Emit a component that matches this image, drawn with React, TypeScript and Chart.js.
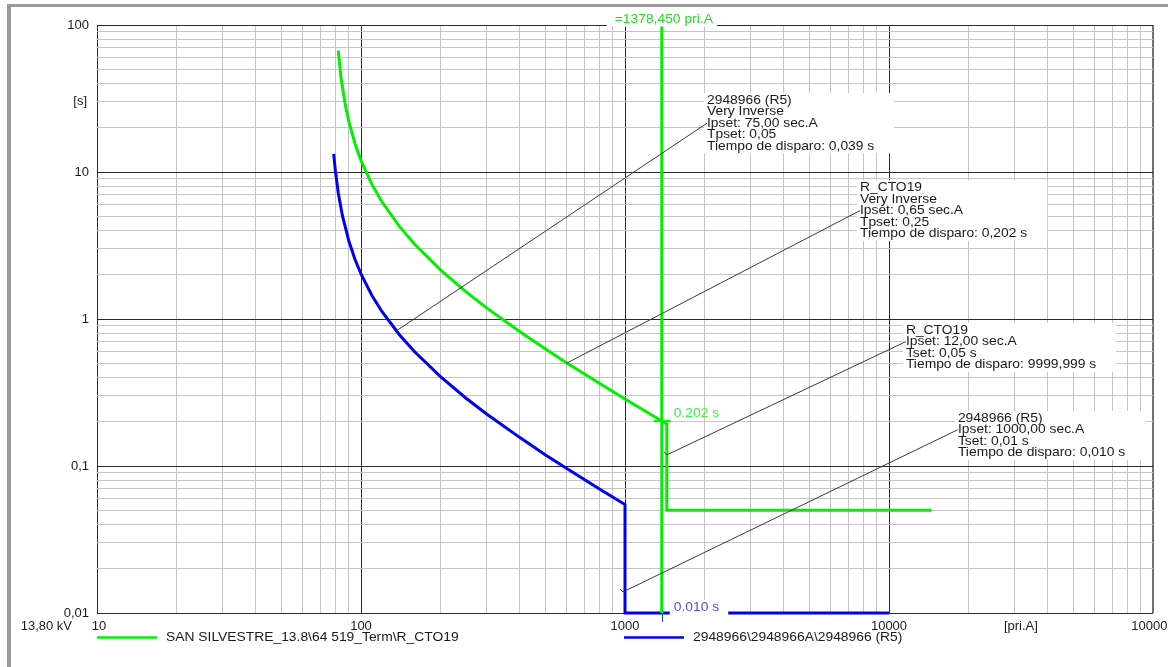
import React, { useEffect, useRef } from 'react';
import { Chart, registerables } from 'chart.js';

Chart.register(...registerables);

// ---------- data ----------
const greenName = 'SAN SILVESTRE_13.8\\64 519_Term\\R_CTO19';
const blueName = '2948966\\2948966A\\2948966 (R5)';

const greenCurrent = [82, 84, 87, 90, 95, 100, 110, 120, 140, 160, 200, 250, 300, 400, 500, 600, 800, 1000, 1200, 1378, 1440, 1440, 14500];
const greenTime = [67, 43.9, 29.2, 21.9, 15.5, 11.96, 8.23, 6.27, 4.25, 3.21, 2.158, 1.53, 1.186, 0.818, 0.624, 0.504, 0.365, 0.2855, 0.2346, 0.2025, 0.1933, 0.05, 0.05];

const blueCurrent = [78.8, 80, 82, 85, 90, 95, 100, 110, 120, 140, 160, 200, 250, 300, 400, 500, 600, 800, 1000, 1000, 10000];
const blueTime = [13.3, 10.13, 7.23, 5.06, 3.375, 2.53, 2.025, 1.446, 1.125, 0.779, 0.596, 0.405, 0.289, 0.225, 0.156, 0.119, 0.0964, 0.0698, 0.0547, 0.01, 0.01];

const markerCurrent = 1378.45;
const markerTimes = [0.01, 100];
const markerLabel = '=1378,450 pri.A';
const greenTripTime = 0.202;
const greenTripLabel = '0.202 s';
const blueTripTime = 0.01;
const blueTripLabel = '0.010 s';

const xDecades = [10, 100, 1000, 10000, 100000];
const xDecadeLabels = ['10', '100', '1000', '10000', '100000'];
const yDecades = [0.01, 0.1, 1, 10, 100];
const yDecadeLabels = ['0,01', '0,1', '1', '10', '100'];
const xUnit = '[pri.A]';
const xUnitAt = 31600;
const yUnit = '[s]';
const yUnitAt = 30;
const voltageLabel = '13,80 kV';

const annoTexts = [
  ['2948966 (R5)', 'Very Inverse', 'Ipset: 75,00 sec.A', 'Tpset: 0,05', 'Tiempo de disparo: 0,039 s'],
  ['R_CTO19', 'Very Inverse', 'Ipset: 0,65 sec.A', 'Tpset: 0,25', 'Tiempo de disparo: 0,202 s'],
  ['R_CTO19', 'Ipset: 12,00 sec.A', 'Tset: 0,05 s', 'Tiempo de disparo: 9999,999 s'],
  ['2948966 (R5)', 'Ipset: 1000,00 sec.A', 'Tset: 0,01 s', 'Tiempo de disparo: 0,010 s'],
];
const annoAtCurrent = [2045, 7762, 11590, 18240];
const annoAtTime = [30.9, 7.85, 0.842, 0.212];
const leaderFromCurrent = [136, 600, 1440, 982];
const leaderFromTime = [0.83, 0.5, 0.119, 0.0139];
const leaderToLine = [2, 2, 1, 1];
const leaderHook = [false, false, true, true];

// ---------- style ----------
const GREEN = '#00f000';
const BLUE = '#0000f0';
const FONT = '13px "Liberation Sans", Arial, sans-serif';
const SX = 1.065;
const LINE_H = 11.6;

const mults = [1, 2, 3, 4, 5, 6, 7, 8, 9];
function gridValues(decades: number[]) {
  const out: number[] = [];
  for (let i = 0; i < decades.length - 1; i++) for (const m of mults) out.push(decades[i] * m);
  out.push(decades[decades.length - 1]);
  return out;
}
const isMajor = (v: number) => Math.abs(Math.log10(v) - Math.round(Math.log10(v))) < 1e-9;

function text(ctx: CanvasRenderingContext2D, s: string, x: number, y: number, align: 'left' | 'right' | 'center', color: string, sx = SX) {
  ctx.save();
  ctx.font = FONT;
  const w = ctx.measureText(s).width * sx;
  const left = align === 'left' ? x : align === 'right' ? x - w : x - w / 2;
  ctx.translate(left, y);
  ctx.scale(sx, 1);
  ctx.fillStyle = color;
  ctx.textAlign = 'left';
  ctx.textBaseline = 'middle';
  ctx.fillText(s, 0, 0);
  ctx.restore();
  return w;
}
function measure(ctx: CanvasRenderingContext2D, s: string, sx = SX) {
  ctx.save();
  ctx.font = FONT;
  const w = ctx.measureText(s).width * sx;
  ctx.restore();
  return w;
}

const overlay = {
  id: 'overlay',
  beforeDatasetsDraw(chart: any) {
    const ctx = chart.ctx as CanvasRenderingContext2D;
    const xs = chart.scales.x, ys = chart.scales.y;
    ctx.save();
    ctx.fillStyle = '#ffffff';
    annoTexts.forEach((lines, i) => {
      const x = xs.getPixelForValue(annoAtCurrent[i]);
      const y = ys.getPixelForValue(annoAtTime[i]);
      const w = Math.max(...lines.map((l) => measure(ctx, l)));
      const right = Math.min(x + w + 20, chart.chartArea.right - 1);
      ctx.fillRect(x - 3, y - 7, right - (x - 3), (lines.length - 1) * LINE_H + 14);
    });
    ctx.restore();
  },
  afterDatasetsDraw(chart: any) {
    const ctx = chart.ctx as CanvasRenderingContext2D;
    const xs = chart.scales.x, ys = chart.scales.y;
    const ca = chart.chartArea;

    // annotations + leaders
    annoTexts.forEach((lines, i) => {
      const x = xs.getPixelForValue(annoAtCurrent[i]);
      const y = ys.getPixelForValue(annoAtTime[i]);
      lines.forEach((l, k) => text(ctx, l, x, y + k * LINE_H, 'left', '#1a1a1a'));
      const fx = xs.getPixelForValue(leaderFromCurrent[i]);
      const fy = ys.getPixelForValue(leaderFromTime[i]);
      ctx.save();
      ctx.strokeStyle = '#3a3a3a';
      ctx.lineWidth = 1;
      ctx.beginPath();
      if (leaderHook[i]) {
        ctx.moveTo(fx - 3, fy - 3);
        ctx.lineTo(fx, fy);
      } else {
        ctx.moveTo(fx, fy);
      }
      ctx.lineTo(x, y + leaderToLine[i] * LINE_H);
      ctx.stroke();
      ctx.restore();
    });

    // marker details
    const mx = xs.getPixelForValue(markerCurrent);
    const gy = ys.getPixelForValue(greenTripTime);
    ctx.save();
    ctx.strokeStyle = GREEN;
    ctx.lineWidth = 2;
    ctx.beginPath();
    ctx.moveTo(mx - 8, gy);
    ctx.lineTo(mx + 9, gy);
    ctx.stroke();
    ctx.strokeStyle = '#2040ff';
    ctx.lineWidth = 1;
    ctx.beginPath();
    ctx.moveTo(Math.round(mx) + 0.5, ca.bottom);
    ctx.lineTo(Math.round(mx) + 0.5, ca.bottom + 9);
    ctx.stroke();
    ctx.restore();
    text(ctx, greenTripLabel, mx + 12, gy - 8, 'left', '#44ee44');

    const by = ys.getPixelForValue(blueTripTime);
    ctx.save();
    ctx.fillStyle = '#ffffff';
    const bw = measure(ctx, blueTripLabel);
    ctx.fillRect(mx + 8, by - 13, bw + 13, 15);
    ctx.restore();
    text(ctx, blueTripLabel, mx + 12, by - 6, 'left', '#4a4aff');
  },
  afterDraw(chart: any) {
    const ctx = chart.ctx as CanvasRenderingContext2D;
    const xs = chart.scales.x, ys = chart.scales.y;
    const ca = chart.chartArea;
    const mx = xs.getPixelForValue(markerCurrent);

    // top marker label
    const lw = measure(ctx, markerLabel);
    ctx.save();
    ctx.fillStyle = '#ffffff';
    ctx.fillRect(mx - lw / 2 - 6, 9, lw + 12, ca.top - 9 + 1.5);
    ctx.restore();
    text(ctx, markerLabel, mx + 2, 19, 'center', '#22dd22');

    // y labels
    yDecades.forEach((v, i) => text(ctx, yDecadeLabels[i], 89, ys.getPixelForValue(v), 'right', '#1a1a1a', 1));
    text(ctx, yUnit, 87, ys.getPixelForValue(yUnitAt), 'right', '#1a1a1a', 1);

    // x labels
    const ly = ca.bottom + 13;
    xDecades.forEach((v, i) => text(ctx, xDecadeLabels[i], xs.getPixelForValue(v) + (i === 0 ? 2 : 0), ly, 'center', '#1a1a1a', 1));
    text(ctx, xUnit, xs.getPixelForValue(xUnitAt), ly, 'center', '#1a1a1a', 1);
    text(ctx, voltageLabel, 72, ly, 'right', '#1a1a1a', 1);

    // legend
    const legY = 637.5;
    const items = [
      { name: greenName, color: GREEN, x0: 97 },
      { name: blueName, color: BLUE, x0: 624 },
    ];
    items.forEach((it) => {
      ctx.save();
      ctx.strokeStyle = it.color;
      ctx.lineWidth = 2.5;
      ctx.beginPath();
      ctx.moveTo(it.x0, legY);
      ctx.lineTo(it.x0 + 60, legY);
      ctx.stroke();
      ctx.restore();
      text(ctx, it.name, it.x0 + 69, legY, 'left', '#1a1a1a');
    });

    // window frame
    ctx.save();
    ctx.fillStyle = '#9a9a9a';
    ctx.fillRect(7, 4, chart.width - 7, 3);
    ctx.fillRect(7, 4, 4, chart.height - 4);
    ctx.restore();
  },
};

export default function App() {
  const ref = useRef<HTMLCanvasElement | null>(null);
  useEffect(() => {
    if (!ref.current) return;
    const xGrid = gridValues(xDecades);
    const yGrid = gridValues(yDecades);
    const gridColor = (c: any) => {
      const v = c.tick?.value;
      if (v === undefined) return '#c4c4c4';
      return isMajor(v) ? '#2a2a2a' : '#c4c4c4';
    };
    const chart = new Chart(ref.current, {
      type: 'line',
      data: {
        datasets: [
          {
            label: 'marker',
            data: markerTimes.map((t) => ({ x: markerCurrent, y: t })),
            borderColor: GREEN,
            borderWidth: 3,
            pointRadius: 0,
            clip: false as any,
          },
          {
            label: greenName,
            data: greenCurrent.map((x, i) => ({ x, y: greenTime[i] })),
            borderColor: GREEN,
            borderWidth: 3,
            pointRadius: 0,
            clip: false as any,
          },
          {
            label: blueName,
            data: blueCurrent.map((x, i) => ({ x, y: blueTime[i] })),
            borderColor: BLUE,
            borderWidth: 3,
            pointRadius: 0,
            clip: false as any,
          },
        ],
      },
      options: {
        responsive: false,
        animation: false,
        devicePixelRatio: 1,
        layout: { padding: { left: 97, right: 15, top: 25, bottom: 54 } },
        plugins: { legend: { display: false }, tooltip: { enabled: false } },
        scales: {
          x: {
            type: 'logarithmic',
            min: 10,
            max: 100000,
            afterBuildTicks: (s: any) => { s.ticks = xGrid.map((v) => ({ value: v })); },
            afterFit: (s: any) => { s.height = 0; },
            ticks: { display: false },
            border: { display: false },
            grid: {
              drawTicks: false,
              color: (c: any) => (c.tick?.value === 100000 ? '#707070' : gridColor(c)),
              lineWidth: (c: any) => (c.tick?.value === 100000 ? 2 : 1),
            },
          },
          y: {
            type: 'logarithmic',
            min: 0.01,
            max: 100,
            afterBuildTicks: (s: any) => { s.ticks = yGrid.map((v) => ({ value: v })); },
            afterFit: (s: any) => { s.width = 0; },
            ticks: { display: false },
            border: { display: false },
            grid: { drawTicks: false, color: gridColor, lineWidth: 1 },
          },
        },
      } as any,
      plugins: [overlay],
    });
    return () => chart.destroy();
  }, []);
  return (
    <div style={{ position: 'fixed', left: 0, top: 0, width: 1168, height: 667, background: '#ffffff' }}>
      <canvas ref={ref} width={1168} height={667} style={{ display: 'block', width: 1168, height: 667 }} />
    </div>
  );
}
